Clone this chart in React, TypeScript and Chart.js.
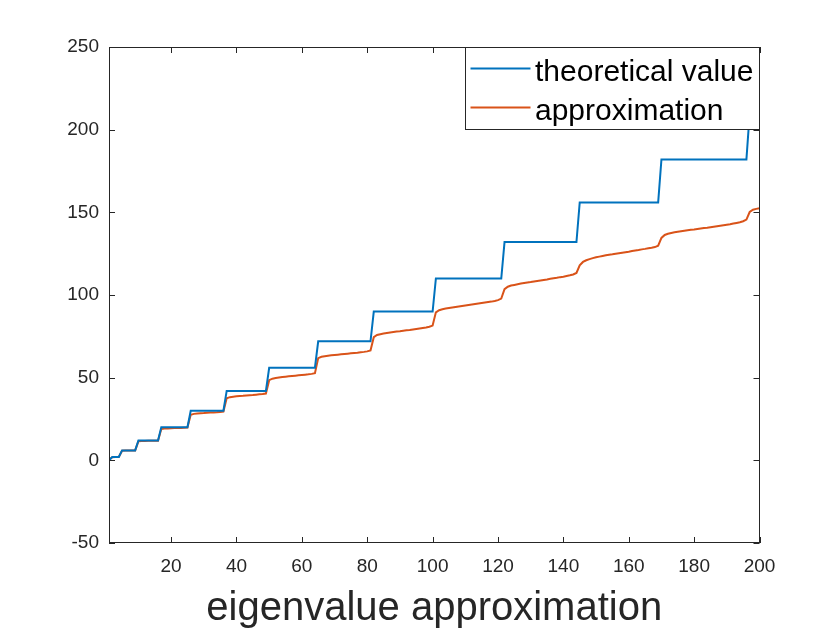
import { useEffect, useRef } from "react";
import { Chart, registerables } from "chart.js";

Chart.register(...registerables);

// Values (index 1..200)
const theoretical: number[] = [
  0,
  2, 2, 2,
  6, 6, 6, 6, 6,
  12, 12, 12, 12, 12, 12, 12,
  20, 20, 20, 20, 20, 20, 20, 20, 20,
  30, 30, 30, 30, 30, 30, 30, 30, 30, 30, 30,
  42, 42, 42, 42, 42, 42, 42, 42, 42, 42, 42, 42, 42,
  56, 56, 56, 56, 56, 56, 56, 56, 56, 56, 56, 56, 56, 56, 56,
  72, 72, 72, 72, 72, 72, 72, 72, 72, 72, 72, 72, 72, 72, 72, 72, 72,
  90, 90, 90, 90, 90, 90, 90, 90, 90, 90, 90, 90, 90, 90, 90, 90, 90, 90, 90,
  110, 110, 110, 110, 110, 110, 110, 110, 110, 110, 110, 110, 110, 110, 110, 110, 110, 110, 110, 110, 110,
  132, 132, 132, 132, 132, 132, 132, 132, 132, 132, 132, 132, 132, 132, 132, 132, 132, 132, 132, 132, 132, 132, 132,
  156, 156, 156, 156, 156, 156, 156, 156, 156, 156, 156, 156, 156, 156, 156, 156, 156, 156, 156, 156, 156, 156, 156, 156, 156,
  182, 182, 182, 182, 182, 182, 182, 182, 182, 182, 182, 182, 182, 182, 182, 182, 182, 182, 182, 182, 182, 182, 182, 182, 182, 182, 182,
  210, 210, 210, 210,
];

const approximation: number[] = [
  0.3,
  1.9, 2.0, 2.0,
  5.8, 5.9, 5.9, 6.0, 6.0,
  11.5, 11.7, 11.7, 11.8, 11.8, 11.9, 11.9,
  18.9, 19.2, 19.3, 19.4, 19.5, 19.5, 19.6, 19.7, 19.8,
  27.6, 28.1, 28.3, 28.5, 28.6, 28.8, 28.9, 29.0, 29.1, 29.3, 29.5,
  37.5, 38.2, 38.5, 38.7, 38.9, 39.0, 39.2, 39.4, 39.5, 39.7, 39.9, 40.1, 40.4,
  48.5, 49.4, 49.8, 50.1, 50.4, 50.6, 50.8, 51.0, 51.2, 51.4, 51.6, 51.8, 52.0, 52.3, 52.7,
  61.8, 62.6, 63.0, 63.3, 63.5, 63.7, 63.9, 64.1, 64.3, 64.5, 64.7, 64.9, 65.1, 65.4, 65.6, 65.9, 66.5,
  74.5, 75.8, 76.3, 76.7, 77.0, 77.3, 77.6, 77.9, 78.1, 78.4, 78.7, 78.9, 79.2, 79.5, 79.8, 80.1, 80.4, 80.8, 81.5,
  89.5, 90.8, 91.4, 91.8, 92.1, 92.4, 92.7, 93.0, 93.3, 93.6, 93.9, 94.2, 94.5, 94.8, 95.1, 95.4, 95.7, 96.0, 96.4, 96.9, 97.8,
  103.5, 105.0, 105.7, 106.1, 106.5, 106.9, 107.2, 107.5, 107.8, 108.2, 108.5, 108.8, 109.1, 109.4, 109.8, 110.1, 110.4, 110.8, 111.1, 111.5, 111.9, 112.4, 113.3,
  118.0, 120.0, 121.0, 121.7, 122.3, 122.8, 123.2, 123.6, 124.0, 124.3, 124.6, 125.0, 125.3, 125.6, 125.9, 126.2, 126.6, 126.9, 127.2, 127.6, 127.9, 128.3, 128.6, 129.0, 129.8,
  134.5, 136.3, 137.0, 137.5, 137.9, 138.2, 138.5, 138.8, 139.1, 139.4, 139.6, 139.9, 140.2, 140.5, 140.7, 141.0, 141.3, 141.6, 141.9, 142.2, 142.5, 142.8, 143.2, 143.6, 144.0, 144.6, 145.6,
  150.2, 151.6, 152.1, 152.5,
];

const xTicks: number[] = [20, 40, 60, 80, 100, 120, 140, 160, 180, 200];
const yTicks: number[] = [-50, 0, 50, 100, 150, 200, 250];
const seriesNames: string[] = ["theoretical value", "approximation"];
const seriesColors: string[] = ["#0072BD", "#D95319"];
const xTitle = "eigenvalue approximation";

const FAMILY = "'Liberation Sans', Arial, Helvetica, sans-serif";
const AXIS_COLOR = "#262626";

const framePlugin = {
  id: "matlabFrame",
  afterDatasetsDraw(chart: any) {
    const { ctx, chartArea: a, scales } = chart;
    const tl = 6;
    ctx.save();
    ctx.strokeStyle = AXIS_COLOR;
    ctx.lineWidth = 1;
    ctx.beginPath();
    for (const v of xTicks) {
      const px = Math.round(scales.x.getPixelForValue(v)) + 0.5;
      ctx.moveTo(px, a.bottom);
      ctx.lineTo(px, a.bottom - tl);
      ctx.moveTo(px, a.top);
      ctx.lineTo(px, a.top + tl);
    }
    for (const v of yTicks) {
      const py = Math.round(scales.y.getPixelForValue(v)) + 0.5;
      ctx.moveTo(a.left, py);
      ctx.lineTo(a.left + tl, py);
      ctx.moveTo(a.right, py);
      ctx.lineTo(a.right - tl, py);
    }
    ctx.stroke();
    const L = Math.round(a.left) + 0.5;
    const T = Math.round(a.top) + 0.5;
    const R = Math.round(a.right) - 0.5;
    const B = Math.round(a.bottom) - 0.5;
    ctx.strokeRect(L, T, R - L, B - T);

    // legend (inside, north-east)
    const w = 294;
    const h = 82;
    const lx = R - w;
    const ly = T;
    ctx.fillStyle = "#ffffff";
    ctx.fillRect(lx, ly, w, h);
    ctx.strokeStyle = AXIS_COLOR;
    ctx.strokeRect(lx, ly, w, h);
    const rowsY = [ly + 21, ly + 60];
    ctx.font = `30px ${FAMILY}`;
    ctx.textBaseline = "alphabetic";
    ctx.textAlign = "left";
    seriesNames.forEach((name, i) => {
      const y = rowsY[i];
      ctx.strokeStyle = seriesColors[i];
      ctx.lineWidth = 2;
      ctx.beginPath();
      ctx.moveTo(lx + 5, y);
      ctx.lineTo(lx + 65, y);
      ctx.stroke();
      ctx.fillStyle = "#000000";
      ctx.fillText(name, lx + 69.5, y + 12.7);
    });
    ctx.restore();
  },
};

export default function App() {
  const canvasRef = useRef<HTMLCanvasElement | null>(null);

  useEffect(() => {
    document.body.style.margin = "0";
    const canvas = canvasRef.current;
    if (!canvas) return;
    const idx = theoretical.map((_, i) => i + 1);
    const chart = new Chart(canvas, {
      type: "line",
      data: {
        datasets: [
          {
            label: seriesNames[0],
            data: idx.map((x, i) => ({ x, y: theoretical[i] })),
            borderColor: seriesColors[0],
            backgroundColor: seriesColors[0],
            borderWidth: 2,
            pointRadius: 0,
            tension: 0,
            fill: false,
          },
          {
            label: seriesNames[1],
            data: idx.map((x, i) => ({ x, y: approximation[i] })),
            borderColor: seriesColors[1],
            backgroundColor: seriesColors[1],
            borderWidth: 2,
            pointRadius: 0,
            tension: 0,
            fill: false,
          },
        ],
      },
      options: {
        animation: false,
        responsive: true,
        maintainAspectRatio: false,
        layout: { padding: { left: 0, right: 80.5, top: 47, bottom: 0 } },
        plugins: {
          legend: { display: false },
          tooltip: { enabled: false },
        },
        scales: {
          x: {
            type: "linear",
            min: 1,
            max: 200,
            afterBuildTicks: (s: any) => {
              s.ticks = xTicks.map((v) => ({ value: v }));
            },
            afterFit: (s: any) => {
              s.height = 87;
            },
            grid: { display: false, drawTicks: false },
            border: { display: false },
            ticks: {
              autoSkip: false,
              maxRotation: 0,
              padding: 12.6,
              color: AXIS_COLOR,
              font: { family: FAMILY, size: 19 },
            },
            title: {
              display: true,
              text: xTitle,
              color: AXIS_COLOR,
              font: { family: FAMILY, size: 40 },
              padding: { top: 0, bottom: -3 },
            },
          },
          y: {
            type: "linear",
            min: -50,
            max: 250,
            afterBuildTicks: (s: any) => {
              s.ticks = yTicks.map((v) => ({ value: v }));
            },
            afterFit: (s: any) => {
              s.width = 109;
            },
            grid: { display: false, drawTicks: false },
            border: { display: false },
            ticks: {
              autoSkip: false,
              padding: 10,
              color: AXIS_COLOR,
              font: { family: FAMILY, size: 19 },
            },
          },
        },
      },
      plugins: [framePlugin],
    });
    return () => chart.destroy();
  }, []);

  return (
    <div style={{ position: "fixed", left: 0, top: 0, width: 840, height: 630, background: "#ffffff" }}>
      <canvas ref={canvasRef} />
    </div>
  );
}
